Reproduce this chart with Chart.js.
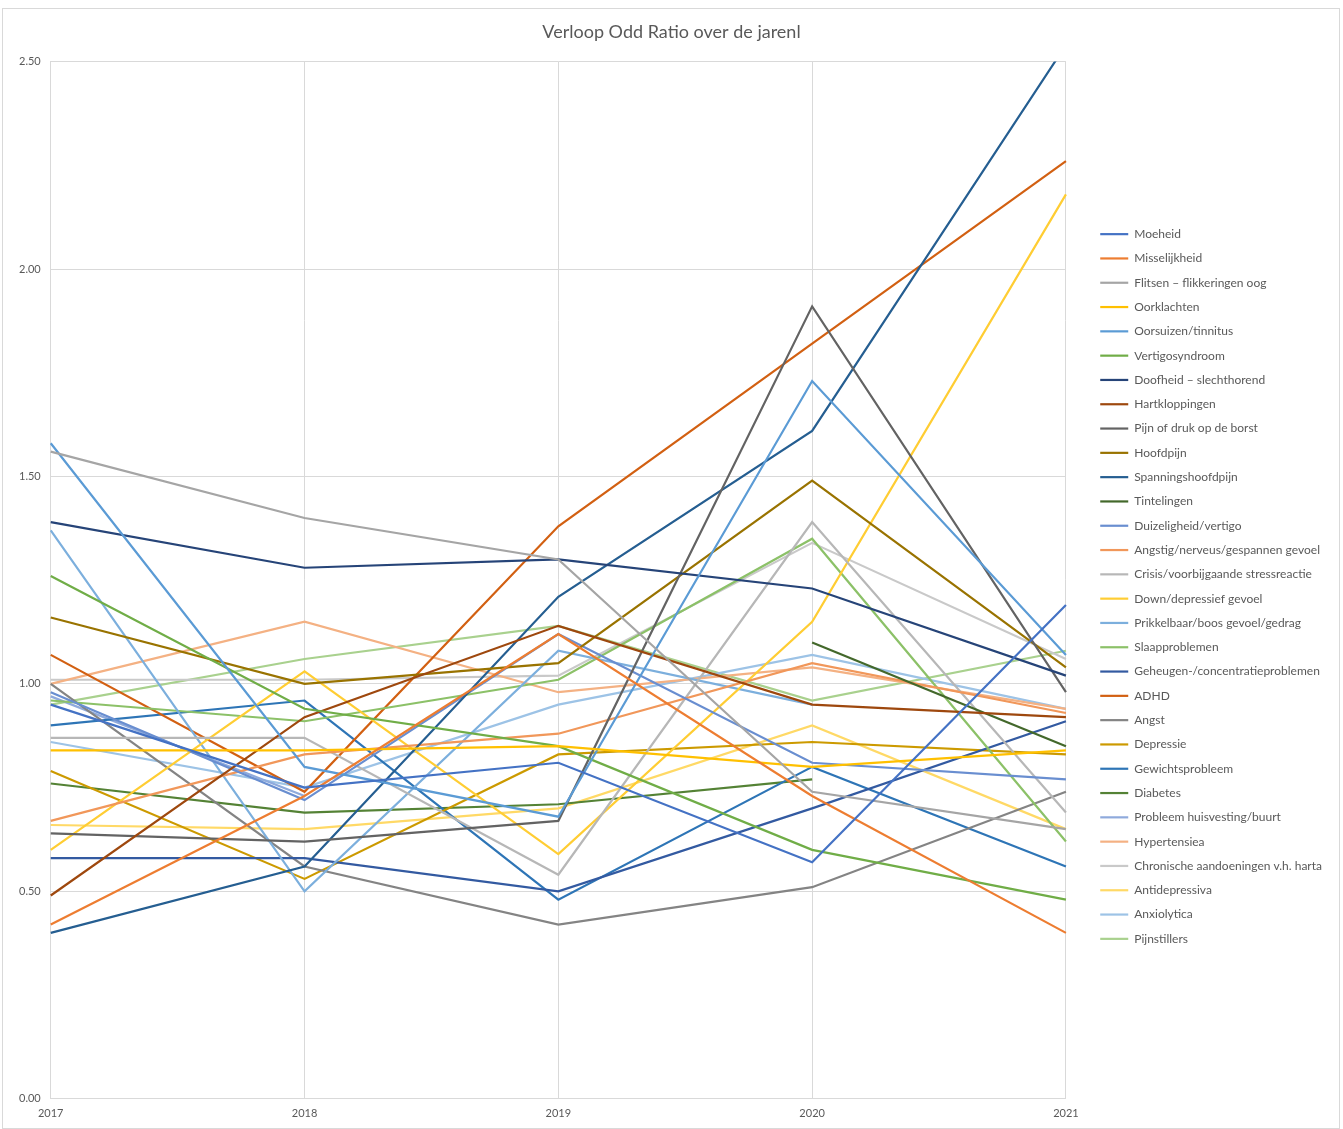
<!DOCTYPE html>
<html>
<head>
<meta charset="utf-8">
<script src="https://cdn.jsdelivr.net/npm/chart.js@4/dist/chart.umd.min.js"></script>
<style>
  html, body { margin: 0; padding: 0; background: #fff; }
  #frame {
    position: absolute; left: 2px; top: 8px;
    width: 1338px; height: 1121px;
    box-sizing: border-box; border: 1px solid #d9d9d9;
  }
  #frame canvas { display: block; }
</style>
</head>
<body>
<div id="frame"><canvas id="oddChart" width="1336" height="1119"></canvas></div>
<script>
// jaren op de x-as
const years = ["2017", "2018", "2019", "2020", "2021"];
const yTicks = [0, 0.5, 1, 1.5, 2, 2.5];

// odd ratio per klacht
const moeheid            = [0.95, 0.75, 0.81, 0.57, 1.19];
const misselijkheid      = [0.42, 0.73, 1.12, 0.73, 0.40];
const flitsen            = [1.56, 1.40, 1.30, 0.74, 0.65];
const oorklachten        = [0.84, 0.84, 0.85, 0.80, 0.84];
const oorsuizen          = [1.58, 0.80, 0.68, 1.73, 1.07];
const vertigosyndroom    = [1.26, 0.94, 0.85, 0.60, 0.48];
const doofheid           = [1.39, 1.28, 1.30, 1.23, 1.02];
const hartkloppingen     = [0.49, 0.92, 1.14, 0.95, 0.92];
const pijnBorst          = [0.64, 0.62, 0.67, 1.91, 0.98];
const hoofdpijn          = [1.16, 1.00, 1.05, 1.49, 1.04];
const spanningshoofdpijn = [0.40, 0.56, 1.21, 1.61, 2.54];
const tintelingen        = [null, null, null, 1.10, 0.85];
const duizeligheid       = [0.98, 0.72, 1.12, 0.81, 0.77];
const angstig            = [0.67, 0.83, 0.88, 1.05, 0.93];
const crisis             = [0.87, 0.87, 0.54, 1.39, 0.69];
const down               = [0.60, 1.03, 0.59, 1.15, 2.18];
const prikkelbaar        = [1.37, 0.50, 1.08, 0.95, null];
const slaapproblemen     = [0.96, 0.91, 1.01, 1.35, 0.62];
const geheugen           = [0.58, 0.58, 0.50, 0.70, 0.91];
const adhd               = [1.07, 0.74, 1.38, 1.82, 2.26];
const angst              = [1.00, 0.56, 0.42, 0.51, 0.74];
const depressie          = [0.79, 0.53, 0.83, 0.86, 0.83];
const gewicht            = [0.90, 0.96, 0.48, 0.80, 0.56];
const diabetes           = [0.76, 0.69, 0.71, 0.77, null];
const huisvesting        = [0.97, 0.73, null, null, null];
const hypertensie        = [1.00, 1.15, 0.98, 1.04, 0.94];
const chronisch          = [1.01, 1.01, 1.02, 1.34, 1.06];
const antidepressiva     = [0.66, 0.65, 0.70, 0.90, 0.65];
const anxiolytica        = [0.86, 0.75, 0.95, 1.07, 0.94];
const pijnstillers       = [0.95, 1.06, 1.14, 0.96, 1.08];

const series = [
  ["Moeheid", moeheid, "#4472C4"],
  ["Misselijkheid", misselijkheid, "#ED7D31"],
  ["Flitsen \u2013 flikkeringen oog", flitsen, "#A5A5A5"],
  ["Oorklachten", oorklachten, "#FFC000"],
  ["Oorsuizen/tinnitus", oorsuizen, "#5B9BD5"],
  ["Vertigosyndroom", vertigosyndroom, "#70AD47"],
  ["Doofheid \u2013 slechthorend", doofheid, "#264478"],
  ["Hartkloppingen", hartkloppingen, "#9E480E"],
  ["Pijn of druk op de borst", pijnBorst, "#636363"],
  ["Hoofdpijn", hoofdpijn, "#997300"],
  ["Spanningshoofdpijn", spanningshoofdpijn, "#255E91"],
  ["Tintelingen", tintelingen, "#43682B"],
  ["Duizeligheid/vertigo", duizeligheid, "#698ED0"],
  ["Angstig/nerveus/gespannen gevoel", angstig, "#F1975A"],
  ["Crisis/voorbijgaande stressreactie", crisis, "#B7B7B7"],
  ["Down/depressief gevoel", down, "#FFCD33"],
  ["Prikkelbaar/boos gevoel/gedrag", prikkelbaar, "#7CAFDD"],
  ["Slaapproblemen", slaapproblemen, "#8CC168"],
  ["Geheugen-/concentratieproblemen", geheugen, "#335AA1"],
  ["ADHD", adhd, "#D26012"],
  ["Angst", angst, "#848484"],
  ["Depressie", depressie, "#CC9A00"],
  ["Gewichtsprobleem", gewicht, "#2E75B6"],
  ["Diabetes", diabetes, "#548235"],
  ["Probleem huisvesting/buurt", huisvesting, "#8FAADC"],
  ["Hypertensiea", hypertensie, "#F4B183"],
  ["Chronische aandoeningen v.h. harta", chronisch, "#C9C9C9"],
  ["Antidepressiva", antidepressiva, "#FFD966"],
  ["Anxiolytica", anxiolytica, "#9DC3E6"],
  ["Pijnstillers", pijnstillers, "#A9D18E"]
];

const FONT = "Lato, 'Open Sans', sans-serif";
const TEXT = "#595959";
const GRID = "#d9d9d9";

// legenda iets naar rechts/onder, titel midden boven de hele grafiek
const placeBoxes = {
  id: "placeBoxes",
  afterLayout(chart) {
    const lg = chart.legend;
    if (lg) {
      lg.left += 22; lg.right += 22;
      lg.top += 18; lg.bottom += 18;
    }
    const tb = chart.titleBlock;
    if (tb) { tb.left += 12; tb.right += 12; }
  }
};

const datasets = series.map(([label, data, color]) => ({
  label,
  data,
  borderColor: color,
  backgroundColor: color,
  borderWidth: 2.2,
  pointRadius: 0,
  pointHoverRadius: 0,
  tension: 0,
  fill: false,
  spanGaps: false
}));

new Chart(document.getElementById("oddChart"), {
  type: "line",
  data: { labels: years, datasets },
  plugins: [placeBoxes],
  options: {
    responsive: false,
    animation: false,
    devicePixelRatio: 1,
    layout: { padding: { left: 6, right: 29, top: 0, bottom: 0 } },
    plugins: {
      title: {
        display: true,
        text: "Verloop Odd Ratio over de jarenl",
        color: TEXT,
        font: { family: FONT, size: 18, weight: "normal" },
        padding: { top: 12, bottom: 19 }
      },
      legend: {
        position: "right",
        labels: {
          usePointStyle: true,
          pointStyle: "line",
          pointStyleWidth: 28,
          boxHeight: 12,
          padding: 12.3,
          color: TEXT,
          font: { family: FONT, size: 12 }
        }
      },
      tooltip: { enabled: false }
    },
    scales: {
      x: {
        offset: false,
        grid: { color: GRID, drawTicks: false },
        border: { color: GRID },
        ticks: { color: TEXT, padding: 8, font: { family: FONT, size: 11 } }
      },
      y: {
        min: 0,
        max: 2.5,
        afterBuildTicks: axis => { axis.ticks = yTicks.map(v => ({ value: v })); },
        grid: { color: GRID, drawTicks: false },
        border: { color: GRID },
        ticks: {
          color: TEXT,
          padding: 10,
          font: { family: FONT, size: 11 },
          callback: v => Number(v).toFixed(2)
        }
      }
    }
  }
});
</script>
</body>
</html>
